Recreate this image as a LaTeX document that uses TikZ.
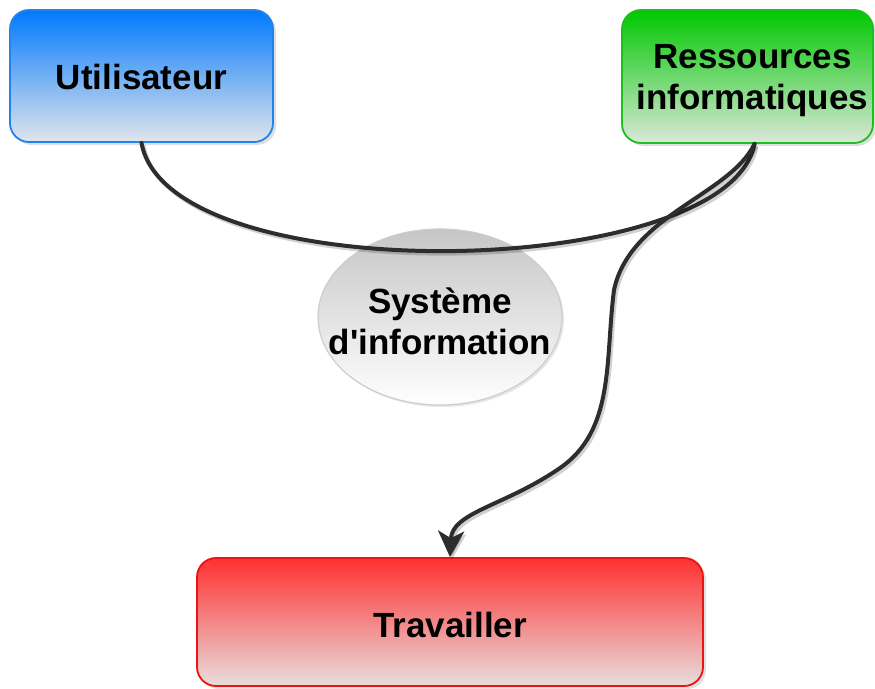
\documentclass[tikz,border=0pt]{standalone}
\usepackage{fontspec}
\setmainfont{Liberation Sans}
\usetikzlibrary{shapes.geometric,shadows,arrows.meta}

\definecolor{bluetop}{RGB}{0,122,252}
\definecolor{bluebot}{RGB}{226,229,236}
\definecolor{blueline}{RGB}{35,130,240}
\definecolor{greentop}{RGB}{0,200,0}
\definecolor{greenbot}{RGB}{218,232,218}
\definecolor{greenline}{RGB}{30,190,30}
\definecolor{redtop}{RGB}{255,48,48}
\definecolor{redbot}{RGB}{232,222,222}
\definecolor{redline}{RGB}{235,20,20}
\definecolor{greytop}{RGB}{198,198,198}
\definecolor{greyline}{RGB}{205,205,205}
\definecolor{linkcol}{RGB}{45,45,45}

\tikzset{
  label text/.style={font=\bfseries\fontsize{35}{41}\selectfont, text=black,
    align=center, inner sep=0pt},
  roundbox/.style={rectangle, rounded corners=19pt, line width=1.8pt,
    inner sep=0pt, drop shadow={opacity=0.25, shadow xshift=3pt, shadow yshift=-3pt}},
  link/.style={draw=linkcol, line width=4pt, line cap=round,
    preaction={draw=black, opacity=0.18, line width=4pt,
      transform canvas={shift={(2pt,-2.5pt)}}}},
}

\begin{document}
\begin{tikzpicture}[x=1pt,y=1pt]
\useasboundingbox (0,0) rectangle (875,-688);

% boxes
\node[roundbox, draw=blueline, top color=bluetop, bottom color=bluebot,
      minimum width=263pt, minimum height=132pt] (u) at (141.5,-76) {};
\node[roundbox, draw=greenline, top color=greentop, bottom color=greenbot,
      minimum width=251pt, minimum height=133pt] (r) at (747.5,-76.5) {};
\node[roundbox, draw=redline, top color=redtop, bottom color=redbot,
      minimum width=506pt, minimum height=128pt] (t) at (450,-622) {};

% central ellipse
\node[ellipse, draw=greyline, line width=1.2pt, top color=greytop,
      bottom color=white, minimum width=244pt, minimum height=176pt, inner sep=0pt,
      drop shadow={opacity=0.2, shadow xshift=2pt, shadow yshift=-2pt}]
      (s) at (440,-317) {};

% labels
\node[label text] (ut) at ([yshift=-1pt]u.center) {Utilisateur};
\node[label text] (rt) at ([xshift=5pt,yshift=-4pt]r.center) {Ressources\\informatiques};
\node[label text] (tt) at ([yshift=-3pt]t.center) {Travailler};
\node[label text] (st) at ([yshift=-4pt]s.center) {Système\\d\textquotesingle information};

% user -- resources link passing over the ellipse
\draw[link] (u.south) .. controls (168,-292) and (728,-282) .. ([xshift=7pt]r.south);

% resources -- work link
\draw[link, -{Stealth[length=26pt, width=26pt, inset=7pt]}]
  ([xshift=7pt]r.south) .. controls (730,-195) and (630,-215) .. (614,-290)
  .. controls (605,-360) and (615,-430) .. (560,-468)
  .. controls (505,-506) and (452,-512) .. (t.north);
\end{tikzpicture}
\end{document}
